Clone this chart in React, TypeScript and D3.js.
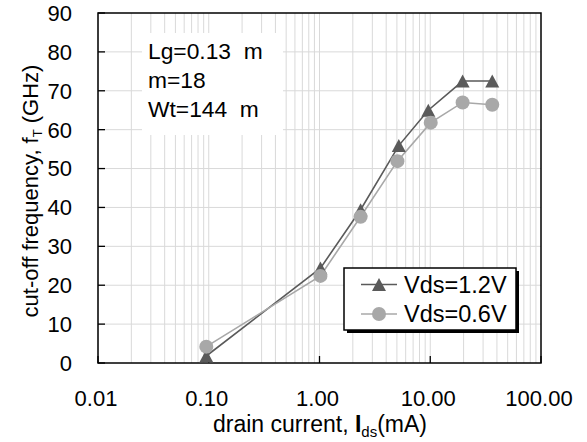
import React from "react";
import * as d3 from "d3";

const xTickValues = [0.01, 0.1, 1, 10, 100];
const xTickLabels = ["0.01", "0.10", "1.00", "10.00", "100.00"];
const yTickValues = [0, 10, 20, 30, 40, 50, 60, 70, 80, 90];

const seriesNames = ["Vds=1.2V", "Vds=0.6V"];
const current12 = [0.095, 1.02, 2.35, 5.2, 9.6, 19.6, 36.3];
const ft12 = [1.8, 24.4, 39.4, 55.9, 65.0, 72.5, 72.5];
const current06 = [0.095, 1.02, 2.35, 5.05, 10.1, 19.6, 36.3];
const ft06 = [4.2, 22.4, 37.6, 51.9, 61.8, 67.0, 66.4];

const annotationLines = ["Lg=0.13  m", "m=18", "Wt=144  m"];

const W = 587;
const H = 442;
const M = { left: 98, right: 46, top: 13, bottom: 79 };
const FONT = "'Liberation Sans', Arial, Helvetica, sans-serif";

export default function App() {
  const x = d3.scaleLog().domain([0.01, 100]).range([M.left, W - M.right]);
  const y = d3.scaleLinear().domain([0, 90]).range([H - M.bottom, M.top]);

  const minorX: number[] = [];
  for (let e = -2; e < 2; e++) {
    for (let k = 1; k <= 9; k++) minorX.push(k * Math.pow(10, e));
  }

  const line = d3
    .line<[number, number]>()
    .x((d) => x(d[0]))
    .y((d) => y(d[1]));

  const s12 = current12.map((c, i) => [c, ft12[i]] as [number, number]);
  const s06 = current06.map((c, i) => [c, ft06[i]] as [number, number]);

  const tri = (cx: number, cy: number, key: string, color: string) => {
    const hw = 7, hh = 6.5;
    return (
      <path
        key={key}
        d={`M${cx},${cy - hh}L${cx + hw},${cy + hh}L${cx - hw},${cy + hh}Z`}
        fill={color}
      />
    );
  };

  const dark = "#5a5a5a";
  const light = "#a8a8a8";
  const x0 = M.left, x1 = W - M.right, y0 = M.top, y1 = H - M.bottom;

  return (
    <svg width={W} height={H} style={{ position: "absolute", left: 0, top: 0, fontFamily: FONT }}>
      <rect width={W} height={H} fill="white" />
      {/* grid */}
      {minorX.map((v, i) => (
        <line key={"gx" + i} x1={x(v)} x2={x(v)} y1={y0} y2={y1} stroke="#d9d9d9" strokeWidth={1} />
      ))}
      {yTickValues.slice(1, -1).map((v) => (
        <line key={"gy" + v} x1={x0} x2={x1} y1={y(v)} y2={y(v)} stroke="#d9d9d9" strokeWidth={1} />
      ))}
      {/* annotation box */}
      <rect x={142} y={33} width={141} height={102} fill="white" />
      {annotationLines.map((t, i) => (
        <text key={"a" + i} x={148} y={58.5 + i * 29.2} fontSize={22.8} fill="#000" style={{ whiteSpace: "pre" }}>
          {t}
        </text>
      ))}
      {/* frame */}
      <rect x={x0} y={y0} width={x1 - x0} height={y1 - y0} fill="none" stroke="#000" strokeWidth={1.5} />
      {/* ticks */}
      {yTickValues.map((v) => (
        <line key={"ty" + v} x1={x0} x2={x0 + 7} y1={y(v)} y2={y(v)} stroke="#000" strokeWidth={1.3} />
      ))}
      {xTickValues.map((v) => (
        <line key={"tx" + v} x1={x(v)} x2={x(v)} y1={y1} y2={y1 - 7} stroke="#000" strokeWidth={1.3} />
      ))}
      {/* tick labels */}
      {yTickValues.map((v) => (
        <text key={"ly" + v} x={72} y={y(v)} dy="0.36em" textAnchor="end" fontSize={22}>
          {v}
        </text>
      ))}
      {xTickValues.map((v, i) => (
        <text key={"lx" + v} x={x(v) - 2} y={406} textAnchor="middle" fontSize={22}>
          {xTickLabels[i]}
        </text>
      ))}
      {/* series */}
      <path d={line(s12) || ""} fill="none" stroke={dark} strokeWidth={1.6} />
      <path d={line(s06) || ""} fill="none" stroke={light} strokeWidth={1.6} />
      {s12.map((d, i) => tri(x(d[0]), y(d[1]), "t" + i, dark))}
      {s06.map((d, i) => (
        <circle key={"c" + i} cx={x(d[0])} cy={y(d[1])} r={7} fill={light} />
      ))}
      {/* legend */}
      <rect x={347} y={271} width={172} height={62} fill="#000" />
      <rect x={344} y={268} width={172} height={62} fill="white" stroke="#000" strokeWidth={1.5} />
      <line x1={361} x2={397} y1={284.5} y2={284.5} stroke={dark} strokeWidth={1.6} />
      {tri(379, 284.5, "lt", dark)}
      <line x1={361} x2={397} y1={314} y2={314} stroke={light} strokeWidth={1.6} />
      <circle cx={379} cy={314} r={7} fill={light} />
      <text x={404} y={284.5} dy="0.36em" fontSize={23.5}>{seriesNames[0]}</text>
      <text x={404} y={314} dy="0.36em" fontSize={23.5}>{seriesNames[1]}</text>
      {/* axis titles */}
      <text x={320} y={432} textAnchor="middle" fontSize={23}>
        drain current, <tspan fontWeight="bold">I</tspan>
        <tspan fontSize={15} dy={5}>ds</tspan>
        <tspan dy={-5}>(mA)</tspan>
      </text>
      <text transform="translate(38,191) rotate(-90)" textAnchor="middle" fontSize={22}>
        cut-off frequency, f<tspan fontSize={13} dy={4}>T</tspan>
        <tspan dy={-4}> (GHz)</tspan>
      </text>
    </svg>
  );
}
